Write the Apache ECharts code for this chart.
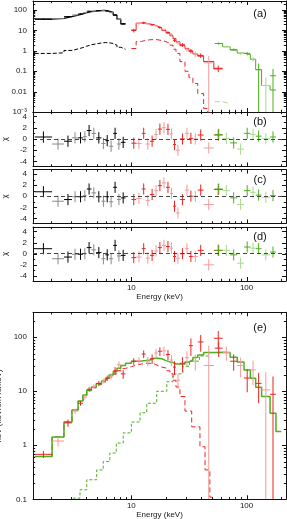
<!DOCTYPE html>
<html><head><meta charset="utf-8">
<script src="https://cdn.jsdelivr.net/npm/echarts@6/dist/echarts.min.js"></script>
<style>html,body{margin:0;padding:0;background:#fff}#c{width:287px;height:519px}</style>
</head><body><div id="c"></div>
<script>
// ================= DATA =================
// bin edges (keV)
const blackEdges = [1.45, 2.05, 2.6, 3.05, 3.45, 3.8, 4.1, 4.5, 4.95, 5.5, 5.95, 6.4, 6.95, 7.5, 8.1, 8.9];
const redEdges   = [10.0, 11.0, 12.3, 13.3, 14.5, 15.8, 17.0, 18.4, 20.0, 21.6, 23.0, 24.4, 26.4, 29.2, 31.6, 34.2, 37.7, 42.4, 52, 62];
const greenEdges = [53, 62, 72, 83, 95, 108, 120, 135, 160, 180];

// panel (a): counts keV^-1
const blackCounts    = [36, 38, 48, 58, 65, 75, 88, 90, 95, 98, 90, 75, 58, 35, 21];
const blackCountsErr = [2.5, 2.5, 3, 3.5, 4, 4.5, 5, 5, 5.5, 5.5, 5, 4.5, 4, 3, 2];
const blackModel     = [36, 39, 48, 57, 65, 74, 84, 90, 95, 96, 90, 78, 57, 36, 21];
const blackComp      = [0.75, 0.8, 1.05, 1.25, 1.45, 1.7, 2.0, 2.2, 2.45, 2.55, 2.5, 2.3, 1.9, 1.5, 1.2];

const redCounts    = [10, 22, 24, 21, 19, 17, 14, 11, 8, 6.5, 3.3, 2.5, 2.0, 1.2, 1.0, 0.7, 0.6, 0.26, 0.14];
const redCountsErr = [2, 3, 3, 2.5, 2, 2, 2, 1.5, 1.2, 1, 0.6, 0.5, 0.4, 0.3, 0.25, 0.2, 0.15, 0.3, 0.05];
const redModel     = [10.5, 23, 23, 21, 19, 16, 13, 10, 7.5, 5.5, 4, 2.8, 1.8, 1.3, 0.95, 0.7, 0.55, 0.3, 0.13];
const redCompEdges = [10, 11, 12.3, 13.3, 14.5, 15.8, 17, 18.4, 20, 21.6, 23, 24.4, 26.4, 29.2, 31.6, 34.2, 37.7, 42.4, 46, 50];
const redComp      = [1.3, 2.9, 3.3, 3.5, 3.6, 3.5, 3.2, 2.8, 2.4, 1.9, 1.2, 0.75, 0.3, 0.1, 0.05, 0.025, 0.008, 0.0015, 0.0009];

const greenCounts    = [2.3, 1.6, 1.15, 0.75, 0.75, 0.4, 0.12, 0.02, 0.06];
const greenCountsErr = [0.3, 0.2, 0.15, 0.12, 0.15, 0.1, 0.12, 0.03, 0.07];
const greenModel     = [2.3, 1.6, 1.1, 0.78, 0.65, 0.38, 0.12, 0.02, 0.012];
const greenCompEdges = [53, 62, 72];
const greenComp      = [0.0032, 0.0026];

// panels (b),(c),(d): residuals (chi), error bars of 1
const chiErr = 1;
const resB_black = [0.35, -0.9, -0.4, 0.2, 0.2, 0.4, 1.5, 1.0, 0.2, -0.8, -0.3, -1.3, 1.0, -0.9, -0.6];
const resB_red   = [-0.75, -0.8, 1.0, -0.9, -0.4, 0.8, 1.75, 2.0, 1.7, 0.9, -1.0, -2.0, 0, 1.0, 0.1, 0, 0.7, -1.6, 0.7];
const resB_green = [0.8, 0.1, -0.7, -1.8, 1.0, 0.8, 0.5, 0.05, 0.35];
const resC_black = [0.8, -0.9, -0.6, -0.1, -0.1, 0.1, 1.3, 0.6, -0.1, -0.9, -0.1, -1.0, 1.6, -0.6, -0.3];
const resC_red   = [-0.6, -0.4, 1.3, -0.8, 0.3, 1.0, 1.9, 2.4, 1.6, 0.5, -1.8, -3.0, -0.6, 1.1, 0, 0, 1.1, -1.5, 1.2];
const resC_green = [1.3, 1.0, -0.3, -1.5, 1.0, 0.7, 0.2, -0.2, 0.1];
const resD_black = [0.9, -0.9, -0.6, -0.1, -0.1, 0, 1.1, 0.7, 0.2, -0.9, -0.2, -0.9, 1.5, -0.4, -0.3];
const resD_red   = [-0.7, -0.6, 0.9, -0.8, -0.3, 0.5, 1.1, 1.5, 1.3, 1.0, -0.5, -0.8, 0, 0.9, -0.5, -0.5, 0.6, -2.0, 0.6];
const resD_green = [0.6, 0.6, -0.2, -1.7, 1.2, 1.0, 0.9, -0.2, 0.3];

// panel (e): unfolded spectrum keV (keV/cm2/s/keV)
const eBlack    = [0.68, 1.2, 2.6, 4.3, 6.0, 7.8, 10.9, 12.3, 14, 15.5, 17.5, 19, 24, 31, 21];
const eBlackErr = [0.1, 0.25, 0.4, 0.5, 0.6, 0.8, 1, 1.2, 1.5, 1.6, 2, 2.5, 4, 5, 4];
const eRed      = [36, 37, 49, 36, 40, 51, 55, 56, 48, 38, 28, 16, 33, 42, 70, 36, 82, 30, 96];
const eRedErr   = [5, 6, 8, 7, 8, 10, 10, 11, 10, 9, 8, 5, 10, 13, 25, 12, 28, 40, 35];
const eGreen    = [63, 52, 36, 30, 17.6, 25, 14, 10.6, 8.8];
const eGreenErr = [20, 15, 12, 12, 8, 12, 8, 12, 10];
const eModelEdges = [1.45, 2.05, 2.6, 3.05, 3.45, 3.8, 4.1, 4.5, 4.95, 5.5, 5.95, 6.4, 6.95, 7.5, 8.1, 8.9, 10.0, 11.0, 12.3, 13.3, 14.5, 15.8, 17.0, 18.4, 20.0, 21.6, 23.0, 24.4, 26.4, 29.2, 31.6, 34.2, 37.7, 42.4, 52, 62, 72, 83, 95, 108, 120, 135, 160, 180, 200];
const eModel      = [0.62, 1.43, 2.7, 4.5, 6.6, 8.5, 10.5, 12, 13.8, 15.5, 17.5, 20, 23, 26.6, 30, 33, 36, 36.5, 37, 38, 41, 41, 40, 37, 35, 34, 32, 32, 32, 35, 38, 42, 47, 52, 53, 52, 42.6, 35, 24.8, 17.4, 11.9, 8, 3.9, 1.8];
const eRedCompEdges = [1.45, 2.05, 2.6, 3.05, 3.45, 3.8, 4.1, 4.5, 4.95, 5.5, 5.95, 6.4, 6.95, 7.5, 8.1, 8.9, 10, 11, 12.3, 13.3, 14.5, 15.8, 17, 18.4, 20, 21.6, 23, 24.4, 26.4, 29.2, 33.4, 39.4, 43.6, 48, 50];
const eRedComp      = [0.62, 1.43, 2.7, 4.5, 6.5, 8.3, 10.2, 11.6, 13.2, 14.7, 16.4, 18.5, 21, 24, 26.5, 28.5, 30.5, 32, 33, 33, 32, 30, 28, 27, 24, 21, 16, 12, 8, 4.3, 2.2, 0.94, 0.35, 0.11];
const eGreenCompEdges = [3.1, 3.58, 4.1, 5.0, 5.7, 6.5, 7.4, 8.5, 10, 11.9, 13.6, 16.6, 20.3, 23, 28, 32, 39, 47, 62];
const eGreenComp      = [0.105, 0.15, 0.23, 0.35, 0.5, 0.72, 1.1, 1.7, 2.7, 4, 6, 10, 15, 21, 29, 36, 45, 52];

// ticks and labels
const xMajorTicks = [10, 100];
const xTickLabels = {1: '10', 2: '100'};
const countsTickLabels = {'-3': '10\u207B\u00B3', '-2': '0.01', '-1': '0.1', '0': '1', '1': '10', '2': '100'};
const sedTickLabels = {'-1': '0.1', '0': '1', '1': '10', '2': '100'};
const resMajorTicks = [-4, -2, 0, 2, 4];
const resMinorTicks = [-3, -1, 1, 3];
const panelLetters = ['(a)', '(b)', '(c)', '(d)', '(e)'];

// ================= CHART =================
const FONT = '"Liberation Sans", Arial, Helvetica, sans-serif';
const TXT = '#1a1a1a';
const C = {black: '#000000', grey: '#8a8a8a', red: '#ee2222', pink: '#f49a9a', green: '#4caf1c', lgreen: '#a8d88e'};
const X_MIN = 1.4, X_MAX = 220;
const A_MIN = 0.001, A_MAX = 280, E_MIN = 0.1, E_MAX = 290, R_MIN = -4.9, R_MAX = 4.8;

function decadeMinors(lo, hi) { // minor log tick positions 2..9 x 10^k
  const out = [];
  for (let k = Math.floor(Math.log10(lo)); k <= Math.ceil(Math.log10(hi)); k++)
    for (let m = 2; m <= 9; m++) { const v = m * Math.pow(10, k); if (v > lo && v < hi) out.push(v); }
  return out;
}
function decades(lo, hi) { const out = []; for (let k = Math.ceil(Math.log10(lo) - 1e-9); Math.pow(10, k) <= hi; k++) out.push(Math.pow(10, k)); return out; }

function bins(edges, vals, errs) { return vals.map((v, i) => [edges[i], edges[i + 1], v, Array.isArray(errs) ? errs[i] : errs]); }
function steps(edges, vals) { const p = vals.map((v, i) => [edges[i], v]); p.push([edges[edges.length - 1], vals[vals.length - 1]]); return p; }

function crossSeries(gi, data, dark, light, yFloor) {
  return {
    type: 'custom', xAxisIndex: 2 * gi, yAxisIndex: 2 * gi, clip: true, silent: true, z: 3,
    encode: {x: [0, 1], y: 2}, data,
    renderItem(params, api) {
      const lo = api.value(0), hi = api.value(1), v = api.value(2), e = api.value(3);
      const mid = Math.sqrt(lo * hi);
      const a = api.coord([lo, v]), b = api.coord([hi, v]);
      const t = api.coord([mid, v + e]);
      const bt = api.coord([mid, yFloor == null ? v - e : Math.max(v - e, yFloor)]);
      const c = params.dataIndex % 2 ? light : dark;
      return {type: 'group', children: [
        {type: 'line', shape: {x1: a[0], y1: a[1], x2: b[0], y2: b[1]}, style: {stroke: c, lineWidth: 1}},
        {type: 'line', shape: {x1: t[0], y1: t[1], x2: bt[0], y2: bt[1]}, style: {stroke: c, lineWidth: 1}}
      ]};
    }
  };
}
function stepSeries(gi, pts, color, width, dash) {
  return {type: 'line', xAxisIndex: 2 * gi, yAxisIndex: 2 * gi, data: pts, step: 'end', symbol: 'none', showSymbol: false,
    silent: true, z: 2, lineStyle: {color, width, type: dash || 'solid'}};
}
function tickSeries(gi, xMaj, xMin, yMaj, yMin, xRef, yRef) {
  const d = [];
  xMaj.forEach(v => d.push([v, yRef, 0, 4]));
  xMin.forEach(v => d.push([v, yRef, 0, 2.2]));
  yMaj.forEach(v => d.push([xRef, v, 1, 4]));
  yMin.forEach(v => d.push([xRef, v, 1, 2.2]));
  return {
    type: 'custom', xAxisIndex: 2 * gi, yAxisIndex: 2 * gi, silent: true, z: 6, encode: {x: 0, y: 1}, data: d,
    renderItem(params, api) {
      const cs = params.coordSys;
      const p = api.coord([api.value(0), api.value(1)]);
      const o = api.value(2), L = api.value(3);
      let s1, s2;
      if (o === 0) {
        const x = Math.round(p[0]) + 0.5;
        s1 = {x1: x, y1: cs.y + cs.height, x2: x, y2: cs.y + cs.height - L};
        s2 = {x1: x, y1: cs.y, x2: x, y2: cs.y + L};
      } else {
        const y = Math.round(p[1]) + 0.5;
        s1 = {x1: cs.x, y1: y, x2: cs.x + L, y2: y};
        s2 = {x1: cs.x + cs.width, y1: y, x2: cs.x + cs.width - L, y2: y};
      }
      return {type: 'group', children: [
        {type: 'line', shape: s1, style: {stroke: '#111', lineWidth: 1}},
        {type: 'line', shape: s2, style: {stroke: '#111', lineWidth: 1}}
      ]};
    }
  };
}
function zeroLine(gi) {
  return {type: 'line', xAxisIndex: 2 * gi, yAxisIndex: 2 * gi, data: [], silent: true,
    markLine: {silent: true, symbol: ['none', 'none'], label: {show: false}, animation: false,
      lineStyle: {type: [4, 3], color: '#444', width: 1}, data: [{yAxis: 0}]}};
}
function logFmt(map) { return v => { const e = Math.log10(v); const r = Math.round(e); return Math.abs(e - r) < 1e-6 && map[r] !== undefined ? map[r] : ''; }; }

const grids = [
  {left: 33, top: 1, width: 253, height: 111},
  {left: 33, top: 112, width: 253, height: 54.5},
  {left: 33, top: 169.5, width: 253, height: 54},
  {left: 33, top: 227, width: 253, height: 54},
  {left: 33, top: 312.3, width: 253, height: 187}
].map(g => Object.assign(g, {containLabel: false, outerBoundsMode: 'none'}));

const lineSt = {show: true, onZero: false, lineStyle: {color: '#111', width: 1}};
const labSt = {fontSize: 8, fontFamily: FONT, color: TXT};
const xAxes = [], yAxes = [];
for (let i = 0; i < 5; i++) {
  const showLab = i === 3 || i === 4;
  xAxes.push({type: 'log', logBase: 10, gridIndex: i, min: X_MIN, max: X_MAX, position: 'bottom',
    axisLine: lineSt, axisTick: {show: false}, splitLine: {show: false}, minorTick: {show: false},
    axisLabel: Object.assign({show: showLab, margin: 2.5, formatter: logFmt(xTickLabels), showMinLabel: false, showMaxLabel: false}, labSt),
    name: showLab ? 'Energy (keV)' : '', nameLocation: 'middle', nameGap: i === 3 ? 9.5 : 11.5, nameTextStyle: labSt});
  xAxes.push({type: 'log', logBase: 10, gridIndex: i, min: X_MIN, max: X_MAX, position: 'top',
    axisLine: lineSt, axisTick: {show: false}, splitLine: {show: false}, axisLabel: {show: false}});
  let yl, yr;
  if (i === 0 || i === 4) {
    const mn = i === 0 ? A_MIN : E_MIN, mx = i === 0 ? A_MAX : E_MAX;
    yl = {type: 'log', logBase: 10, min: mn, max: mx,
      axisLabel: Object.assign({margin: 6, formatter: logFmt(i === 0 ? countsTickLabels : sedTickLabels), showMaxLabel: false}, labSt),
      name: i === 0 ? 'Counts keV\u207B\u00B9' : 'keV (keV/cm\u00B2/s/keV)', nameGap: 23};
  } else {
    yl = {type: 'value', min: R_MIN, max: R_MAX,
      axisLabel: Object.assign({margin: 6, formatter: v => resMajorTicks.includes(v) ? String(v) : '', showMinLabel: false, showMaxLabel: false}, labSt),
      name: '\u03C7', nameGap: 21};
  }
  yAxes.push(Object.assign({gridIndex: i, position: 'left', axisLine: lineSt, axisTick: {show: false}, splitLine: {show: false},
    nameLocation: 'middle', nameTextStyle: labSt}, yl));
  yAxes.push({type: yl.type, logBase: 10, gridIndex: i, min: yl.min, max: yl.max, position: 'right', axisLine: lineSt,
    axisTick: {show: false}, splitLine: {show: false}, axisLabel: {show: false}});
}

const xMinor = decadeMinors(X_MIN, X_MAX);
const series = [];
// (a)
series.push(stepSeries(0, steps(blackEdges, blackComp), C.black, 1, [4, 2]));
series.push(stepSeries(0, steps(redCompEdges, redComp), C.red, 1, [5, 3]));
series.push(stepSeries(0, steps(greenCompEdges, greenComp), C.lgreen, 1, [5, 3]));
series.push(stepSeries(0, steps(blackEdges, blackModel), C.black, 1.2));
series.push(stepSeries(0, steps(redEdges, redModel), C.red, 1));
series.push(stepSeries(0, steps(greenEdges, greenModel), C.green, 1));
series.push(crossSeries(0, bins(blackEdges, blackCounts, blackCountsErr), C.black, C.grey, A_MIN));
series.push(crossSeries(0, bins(redEdges, redCounts, redCountsErr), C.red, C.pink, A_MIN));
series.push(crossSeries(0, bins(greenEdges, greenCounts, greenCountsErr), C.green, C.lgreen, A_MIN));
series.push(tickSeries(0, xMajorTicks, xMinor, decades(A_MIN, A_MAX), decadeMinors(A_MIN, A_MAX), 10, 1));
// (b)(c)(d)
const res = [[resB_black, resB_red, resB_green], [resC_black, resC_red, resC_green], [resD_black, resD_red, resD_green]];
res.forEach((r, k) => {
  const gi = k + 1;
  series.push(zeroLine(gi));
  series.push(crossSeries(gi, bins(blackEdges, r[0], chiErr), C.black, C.grey, null));
  series.push(crossSeries(gi, bins(redEdges, r[1], chiErr), C.red, C.pink, null));
  series.push(crossSeries(gi, bins(greenEdges, r[2], chiErr), C.green, C.lgreen, null));
  series.push(tickSeries(gi, xMajorTicks, xMinor, resMajorTicks, resMinorTicks, 10, 0));
});
// (e)
series.push(stepSeries(4, steps(eRedCompEdges, eRedComp), C.red, 1, [5, 3]));
series.push(stepSeries(4, steps(eGreenCompEdges, eGreenComp), C.green, 1, [3, 2]));
series.push(stepSeries(4, steps(eModelEdges, eModel), C.green, 1.5));
series.push(crossSeries(4, bins(blackEdges, eBlack, eBlackErr), C.red, C.pink, E_MIN));
series.push(crossSeries(4, bins(redEdges, eRed, eRedErr), C.red, C.pink, E_MIN));
series.push(crossSeries(4, bins(greenEdges, eGreen, eGreenErr), C.red, C.pink, E_MIN));
series.push(tickSeries(4, xMajorTicks, xMinor, decades(E_MIN, E_MAX), decadeMinors(E_MIN, E_MAX), 10, 1));

const letterY = [14, 122, 180, 237, 328];
const chart = echarts.init(document.getElementById('c'), null, {renderer: 'canvas'});
chart.setOption({
  animation: false,
  backgroundColor: '#fff',
  grid: grids, xAxis: xAxes, yAxis: yAxes, series,
  graphic: panelLetters.map((t, i) => ({type: 'text', x: 260, y: letterY[i], silent: true,
    style: {text: t, fontSize: 11, fontFamily: FONT, fill: '#111', align: 'center', verticalAlign: 'middle'}}))
});
</script>
</body></html>
